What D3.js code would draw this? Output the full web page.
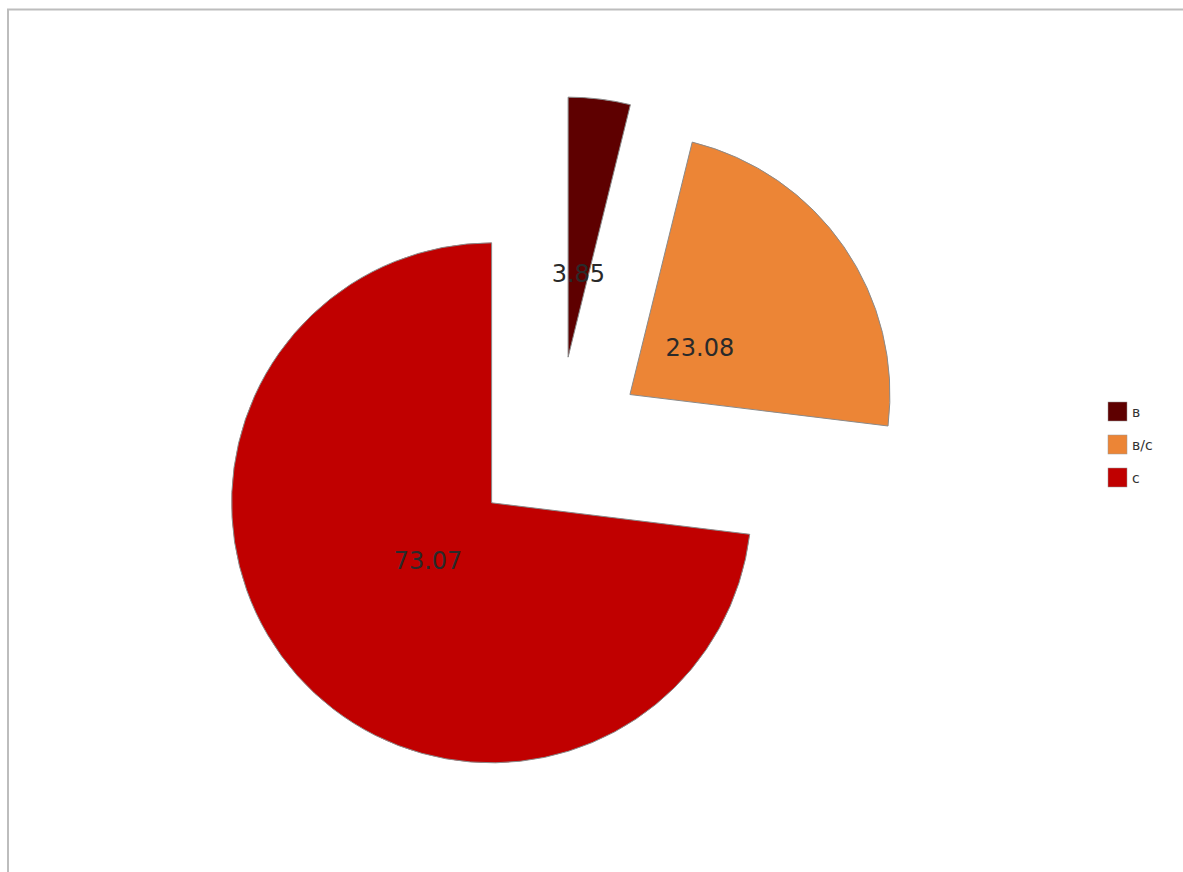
<!DOCTYPE html>
<html>
<head>
<meta charset="utf-8">
<script src="https://cdn.jsdelivr.net/npm/d3@7"></script>
<style>
  html, body { margin: 0; padding: 0; background: #fff; }
  svg { display: block; }
</style>
</head>
<body>
<svg id="chart" width="1183" height="872"></svg>
<script>
// Category names, shares (percent) and slice colours
const categories = ["в", "в/с", "с"];
const shares = [3.85, 23.08, 73.07];
const sliceColors = ["#5e0000", "#ec8536", "#c00000"];

const W = 1183, H = 872;
const cx = 557.5, cy = 444.5;   // pie centre before exploding
const radius = 260;
const explode = 88;             // every slice pulled out along its bisector
const labelDist = 85;           // label distance from the exploded tip

const svg = d3.select("#chart");

// frame (top and left edges)
svg.append("path")
  .attr("d", `M8,${H} L8,9.5 L${W},9.5`)
  .attr("fill", "none")
  .attr("stroke", "#bdbdbd")
  .attr("stroke-width", 2);

const data = categories.map((c, i) => ({ name: c, value: shares[i], color: sliceColors[i] }));

const pie = d3.pie().sort(null).value(d => d.value).startAngle(0).endAngle(2 * Math.PI);
const arc = d3.arc().innerRadius(0).outerRadius(radius);
const color = d3.scaleOrdinal().domain(categories).range(sliceColors);

const arcs = pie(data);

const g = svg.append("g").attr("transform", `translate(${cx},${cy})`);

const slice = g.selectAll("g.slice")
  .data(arcs)
  .join("g")
  .attr("class", "slice")
  .attr("transform", d => {
    const a = (d.startAngle + d.endAngle) / 2;
    return `translate(${explode * Math.sin(a)},${-explode * Math.cos(a)})`;
  });

slice.append("path")
  .attr("d", arc)
  .attr("fill", d => color(d.data.name))
  .attr("stroke", "#8a8a8a")
  .attr("stroke-width", 1);

slice.append("text")
  .attr("x", d => labelDist * Math.sin((d.startAngle + d.endAngle) / 2))
  .attr("y", d => -labelDist * Math.cos((d.startAngle + d.endAngle) / 2) + 1.5)
  .attr("text-anchor", "middle")
  .attr("dominant-baseline", "central")
  .attr("font-family", "DejaVu Sans, sans-serif")
  .attr("font-size", 24)
  .attr("fill", "#2a2a2a")
  .text(d => d.data.value.toFixed(2));

// legend
const legend = svg.append("g").attr("transform", "translate(1108,402)");
const item = legend.selectAll("g")
  .data(data)
  .join("g")
  .attr("transform", (d, i) => `translate(0,${i * 33})`);

item.append("rect")
  .attr("width", 19)
  .attr("height", 19)
  .attr("fill", d => color(d.name))
  .attr("stroke", "#999")
  .attr("stroke-width", 0.5);

item.append("text")
  .attr("x", 24)
  .attr("y", 10)
  .attr("dominant-baseline", "central")
  .attr("font-family", "DejaVu Sans, sans-serif")
  .attr("font-size", 14)
  .attr("fill", "#333")
  .text(d => d.name);
</script>
</body>
</html>
